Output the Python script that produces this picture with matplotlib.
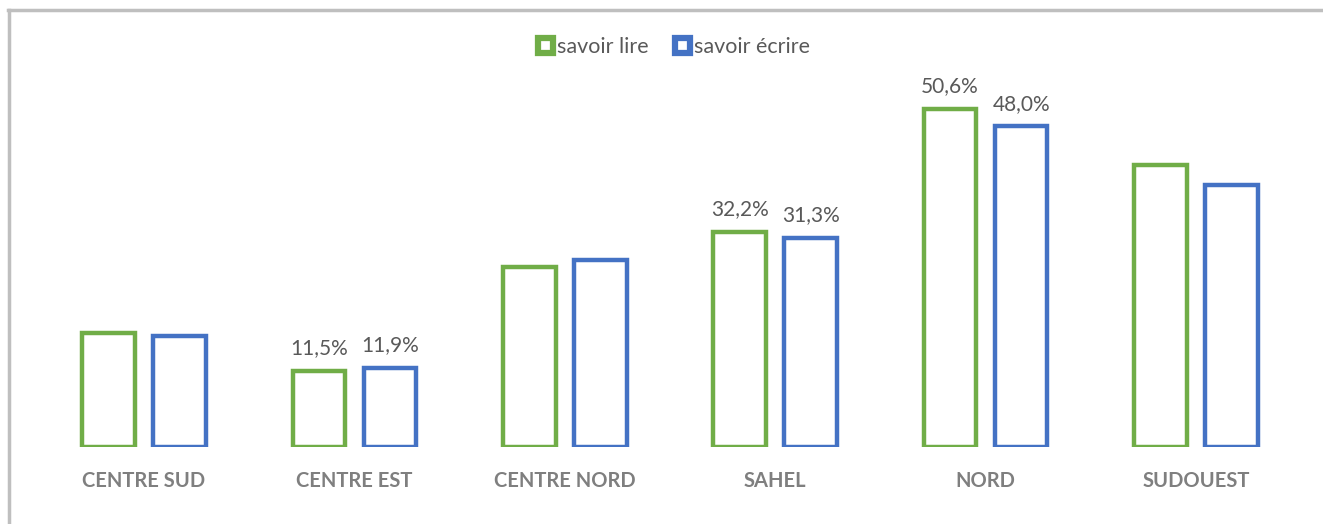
import numpy as np
import matplotlib.pyplot as plt
from matplotlib.patches import Patch
from matplotlib.lines import Line2D

# data (percent)
regions = ['CENTRE SUD', 'CENTRE EST', 'CENTRE NORD', 'SAHEL', 'NORD', 'SUDOUEST']
savoir_lire = [17.1, 11.5, 27.0, 32.2, 50.6, 42.2]
savoir_ecrire = [16.7, 11.9, 28.0, 31.3, 48.0, 39.3]
# only some bars carry a value label in the original
labelled = ['CENTRE EST', 'SAHEL', 'NORD']

green = '#70AD47'
blue = '#4472C4'
grey_txt = '#595959'

plt.rcParams['font.family'] = ['Lato', 'DejaVu Sans']

fig = plt.figure(figsize=(13.23, 5.24), dpi=100)
ax = fig.add_axes([0.0293, 0.146, 0.9542, 0.7023])

x = np.arange(len(regions))
w = 0.25
off = 0.169
lw = 3.2

b1 = ax.bar(x - off, savoir_lire, w, facecolor='white', edgecolor=green, linewidth=lw, label='savoir lire')
b2 = ax.bar(x + off, savoir_ecrire, w, facecolor='white', edgecolor=blue, linewidth=lw, label='savoir écrire')


def fmt(v, r):
    return (f'{v:.1f}%'.replace('.', ',')) if r in labelled else ''


ax.bar_label(b1, labels=[fmt(v, r) for v, r in zip(savoir_lire, regions)], padding=9, fontsize=15, color=grey_txt)
ax.bar_label(b2, labels=[fmt(v, r) for v, r in zip(savoir_ecrire, regions)], padding=9, fontsize=15, color=grey_txt)

ax.set_xlim(-0.5, len(regions) - 0.5)
ax.set_ylim(0, 55)
ax.set_xticks(x)
ax.set_xticklabels(regions, fontsize=14.5, fontweight='bold', color='#7F7F7F')
ax.tick_params(axis='x', length=0, pad=17)
ax.set_yticks([])
for s in ax.spines.values():
    s.set_visible(False)

handles = [Patch(facecolor='white', edgecolor=green, linewidth=4.5, label='savoir lire'),
           Patch(facecolor='white', edgecolor=blue, linewidth=4.5, label='savoir écrire')]
fig.legend(handles=handles, loc='center', bbox_to_anchor=(674 / 1323, 1 - 47 / 524), ncol=2,
           frameon=False, fontsize=15.5, handlelength=0.7, handleheight=0.7, handletextpad=0.2,
           columnspacing=1.2, labelcolor=grey_txt)

# outer chart frame (only left and top visible in the crop)
fig.add_artist(Line2D([8.5 / 1323, 8.5 / 1323], [0, 1 - 9.5 / 524], transform=fig.transFigure,
                      color='#BFBFBF', linewidth=2.5))
fig.add_artist(Line2D([7.5 / 1323, 1], [1 - 10 / 524, 1 - 10 / 524], transform=fig.transFigure,
                      color='#BFBFBF', linewidth=2.5))

fig.savefig('out.png', dpi=100)
